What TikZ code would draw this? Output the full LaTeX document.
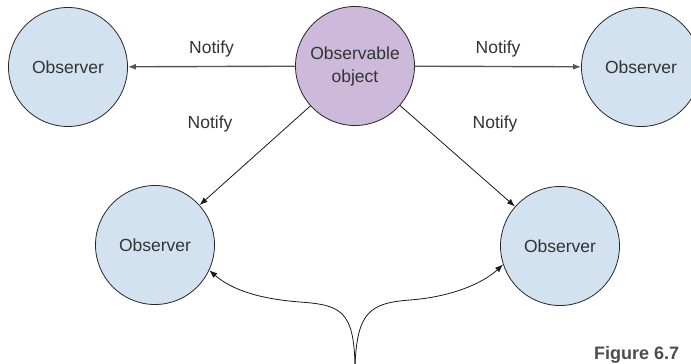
\documentclass[tikz,border=0pt]{standalone}
\usepackage{fontspec}
\setmainfont{Liberation Sans}
\usetikzlibrary{arrows.meta}
\definecolor{obsblue}{HTML}{D3E2F0}
\definecolor{obslilac}{HTML}{CDB9DA}
\definecolor{txtgray}{HTML}{333333}
\definecolor{linegray}{HTML}{555555}
\begin{document}
\begin{tikzpicture}[line join=round,line cap=round,>={Latex[length=8pt,width=6pt]},x=1pt,y=-1pt,font=\fontsize{17.5}{23}\selectfont]
	\tikzset{observer/.style={circle,draw=black!85,fill=obsblue,line width=0.8pt,minimum size=119pt,inner sep=0pt,text=txtgray}}
	\tikzset{subject/.style={observer,fill=obslilac,align=center}}
	\tikzset{hline/.style={draw=linegray,line width=1.4pt}}
	\tikzset{dline/.style={draw=black!90,line width=0.8pt}}
	\useasboundingbox (0,0) rectangle (691,364);
	\clip (0,0) rectangle (691,364);
	% circles
	\node[subject] (subj) at (355,66) {Observable\\object};
	\node[observer] (obsL) at (68,67) {Observer};
	\node[observer] (obsR) at (641,67) {Observer};
	\node[observer] (obsBL) at (155,245) {Observer};
	\node[observer] (obsBR) at (560,246) {Observer};
	% notifications
	\draw[hline,->] (subj) -- (obsL) node[midway,above=5pt,text=txtgray] {Notify};
	\draw[hline,->] (subj) -- (obsR) node[midway,above=5pt,text=txtgray] {Notify};
	\draw[dline,->] (subj) -- (obsBL);
	\draw[dline,->] (subj) -- (obsBR);
	\node[text=txtgray] (notifyBL) at (210,124) {Notify};
	\node[text=txtgray] (notifyBR) at (495,124) {Notify};
	% branching curve from below
	\coordinate (src) at (355,366);
	\draw[dline,->] (src) .. controls (354,310) and (340,305) .. (300,302)
		.. controls (260,299) and (232,290) .. (obsBL.-25);
	\draw[dline,->] (src) .. controls (357,312) and (370,303) .. (410,300)
		.. controls (450,297) and (482,284) .. (obsBR.198);
	\node[anchor=base west,text=black!70,font=\fontsize{18}{18}\selectfont\bfseries,inner sep=0pt] (figlabel) at (594,359) {Figure 6.7};
\end{tikzpicture}
\end{document}
